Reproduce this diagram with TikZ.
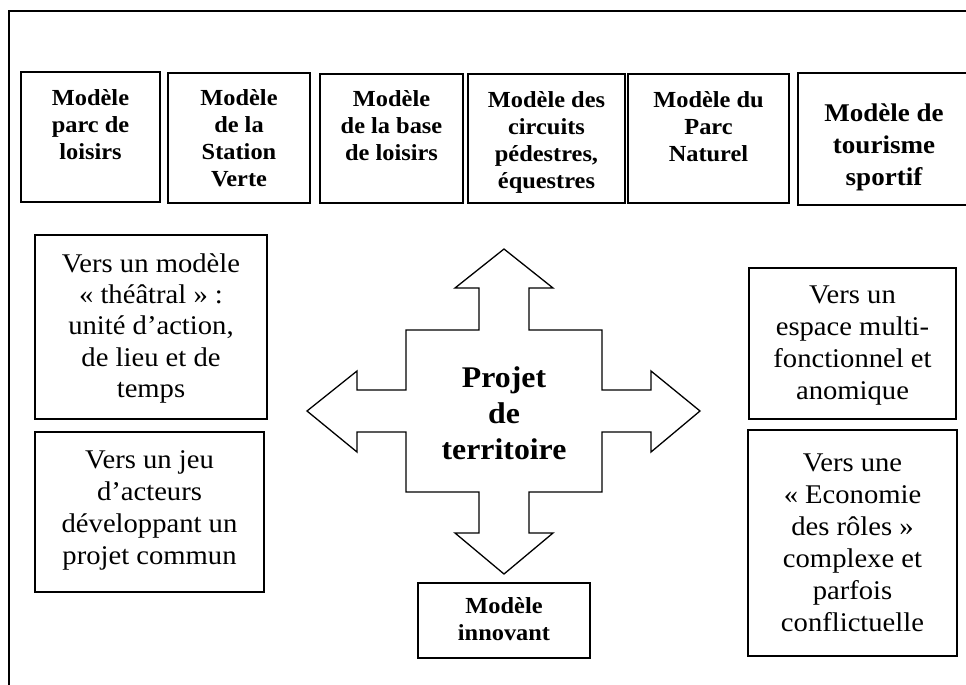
\documentclass[tikz,border=0pt]{standalone}
\usepackage{fontspec}
\setmainfont{Liberation Serif}[FakeStretch=1.06]
\usetikzlibrary{positioning}
\tikzset{
  frame/.style={draw, line width=2.6pt},
  modbox/.style={draw, line width=1.6pt, inner sep=0pt},
  modtext/.style={align=center, inner sep=0pt, font=\fontsize{23}{27}\selectfont\bfseries},
  verstext/.style={align=center, inner sep=0pt, font=\fontsize{27}{32}\selectfont},
  quadarrow/.style={draw, line width=1.3pt, line join=miter},
}
\begin{document}
\begin{tikzpicture}[x=1pt,y=-1pt]
            \clip (0,0) rectangle (966,685);
            \draw[frame] (9,11) rectangle (990,710);

            \node[modbox, minimum width=139pt, minimum height=130pt] (M1) at (90.5,137) {};
            \node[modbox, minimum width=142pt, minimum height=130pt] (M2) at (239,138) {};
            \node[modbox, minimum width=143pt, minimum height=129pt] (M3) at (391.5,138.5) {};
            \node[modbox, minimum width=157pt, minimum height=129pt] (M4) at (546.5,138.5) {};
            \node[modbox, minimum width=161pt, minimum height=129pt] (M5) at (708.5,138.5) {};
            \node[modbox, minimum width=172pt, minimum height=132pt] (M6) at (884,139) {};

            \node[modtext, below=18pt of M1.north] (T1) {Modèle\\parc de\\loisirs};
            \node[modtext, below=17pt of M2.north] (T2) {Modèle\\de la\\Station\\Verte};
            \node[modtext, below=17pt of M3.north] (T3) {Modèle\\de la base\\de loisirs};
            \node[modtext, below=18pt of M4.north] (T4) {Modèle des\\circuits\\pédestres,\\équestres};
            \node[modtext, below=18pt of M5.north] (T5) {Modèle du\\Parc\\Naturel};
            \node[modtext, font=\fontsize{25.5}{32}\selectfont\bfseries, below=31pt of M6.north] (T6) {Modèle de\\tourisme\\sportif};

            \node[modbox, minimum width=232pt, minimum height=184pt] (V1) at (151,327) {};
            \node[modbox, minimum width=229pt, minimum height=160pt] (V2) at (149.5,512) {};
            \node[modbox, minimum width=207pt, minimum height=151pt] (V3) at (852.5,343.5) {};
            \node[modbox, minimum width=209pt, minimum height=226pt] (V4) at (852.5,543) {};

            \node[verstext, font=\fontsize{27}{31.3}\selectfont, below=19pt of V1.north] (W1) {Vers un modèle\\« théâtral » :\\unité d’action,\\de lieu et de\\temps};
            \node[verstext, below=19pt of V2.north] (W2) {Vers un jeu\\d’acteurs\\développant un\\projet commun};
            \node[verstext, below=18pt of V3.north] (W3) {Vers un\\espace multi-\\fonctionnel et\\anomique};
            \node[verstext, below=24pt of V4.north] (W4) {Vers une\\« Economie\\des rôles »\\complexe et\\parfois\\conflictuelle};

            \draw[quadarrow, shift={(504,411)}]
              (0,-162) -- (49,-123) -- (25,-123) -- (25,-81) -- (98,-81) -- (98,-21)
              -- (147,-21) -- (147,-40) -- (196,0) -- (147,41) -- (147,21) -- (98,21)
              -- (98,81) -- (25,81) -- (25,122) -- (49,122) -- (0,163) -- (-49,122)
              -- (-25,122) -- (-25,81) -- (-98,81) -- (-98,21) -- (-147,21) -- (-147,41)
              -- (-197,0) -- (-147,-40) -- (-147,-21) -- (-98,-21) -- (-98,-81)
              -- (-25,-81) -- (-25,-123) -- (-49,-123) -- cycle;
            \node[modtext, font=\fontsize{30}{36}\selectfont\bfseries, anchor=north] (P) at (504,366) {Projet\\de\\territoire};

            \node[modbox, minimum width=172pt, minimum height=75pt] (I) at (504,620.5) {};
            \node[modtext, below=15pt of I.north] (J) {Modèle\\innovant};
\end{tikzpicture}
\end{document}
